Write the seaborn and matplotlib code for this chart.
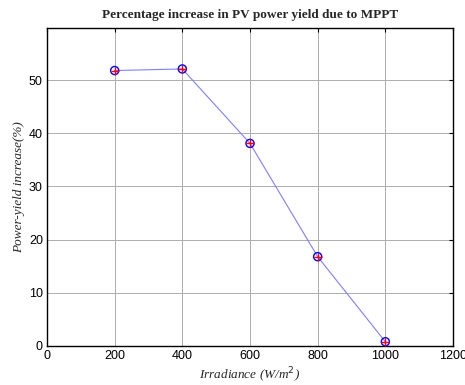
import numpy as np
import pandas as pd
import matplotlib
matplotlib.use('Agg')
import matplotlib.pyplot as plt
import seaborn as sns

# data
irradiance = [200, 400, 600, 800, 1000]
yield_increase = [51.8, 52.1, 38.1, 16.8, 0.8]
xticks = [0, 200, 400, 600, 800, 1000, 1200]
yticks = [0, 10, 20, 30, 40, 50]

df = pd.DataFrame({'irr': irradiance, 'inc': yield_increase})

sns.set_style('white')
plt.rcParams['font.family'] = ['Liberation Sans', 'DejaVu Sans']

fig = plt.figure(figsize=(4.65, 3.85), dpi=100)
ax = fig.add_axes([47 / 465, 1 - 346 / 385, 406 / 465, 318 / 385])

sns.lineplot(data=df, x='irr', y='inc', ax=ax, color='#8080ff',
             linewidth=0.8, zorder=2)
sns.scatterplot(data=df, x='irr', y='inc', ax=ax, marker='o', s=34,
                facecolor='none', edgecolor='blue', linewidth=1.0, zorder=3)
sns.scatterplot(data=df, x='irr', y='inc', ax=ax, marker='+', s=36,
                color='red', linewidth=1.0, zorder=4)

ax.set_xlim(0, 1200)
ax.set_ylim(0, 59.8)
ax.set_xticks(xticks)
ax.set_yticks(yticks)
ax.grid(True, color='0.68', linewidth=0.7, linestyle='-')
ax.set_axisbelow(True)
for s in ax.spines.values():
    s.set_color('black')
    s.set_linewidth(1.0)
ax.tick_params(direction='in', length=3, labelsize=9, colors='black',
               top=True, right=True, pad=3)

ax.set_title('Percentage increase in PV power yield due to MPPT',
             fontfamily='Liberation Serif', fontweight='bold', fontsize=9.5,
             pad=7)
ax.set_xlabel('Irradiance (W/m$^2$)', fontfamily='Liberation Serif',
              fontstyle='italic', fontsize=9.5, labelpad=3)
ax.set_ylabel('Power-yield increase(%)', fontfamily='Liberation Serif',
              fontstyle='italic', fontsize=9.5, labelpad=3)

fig.savefig('out.png', dpi=100)
